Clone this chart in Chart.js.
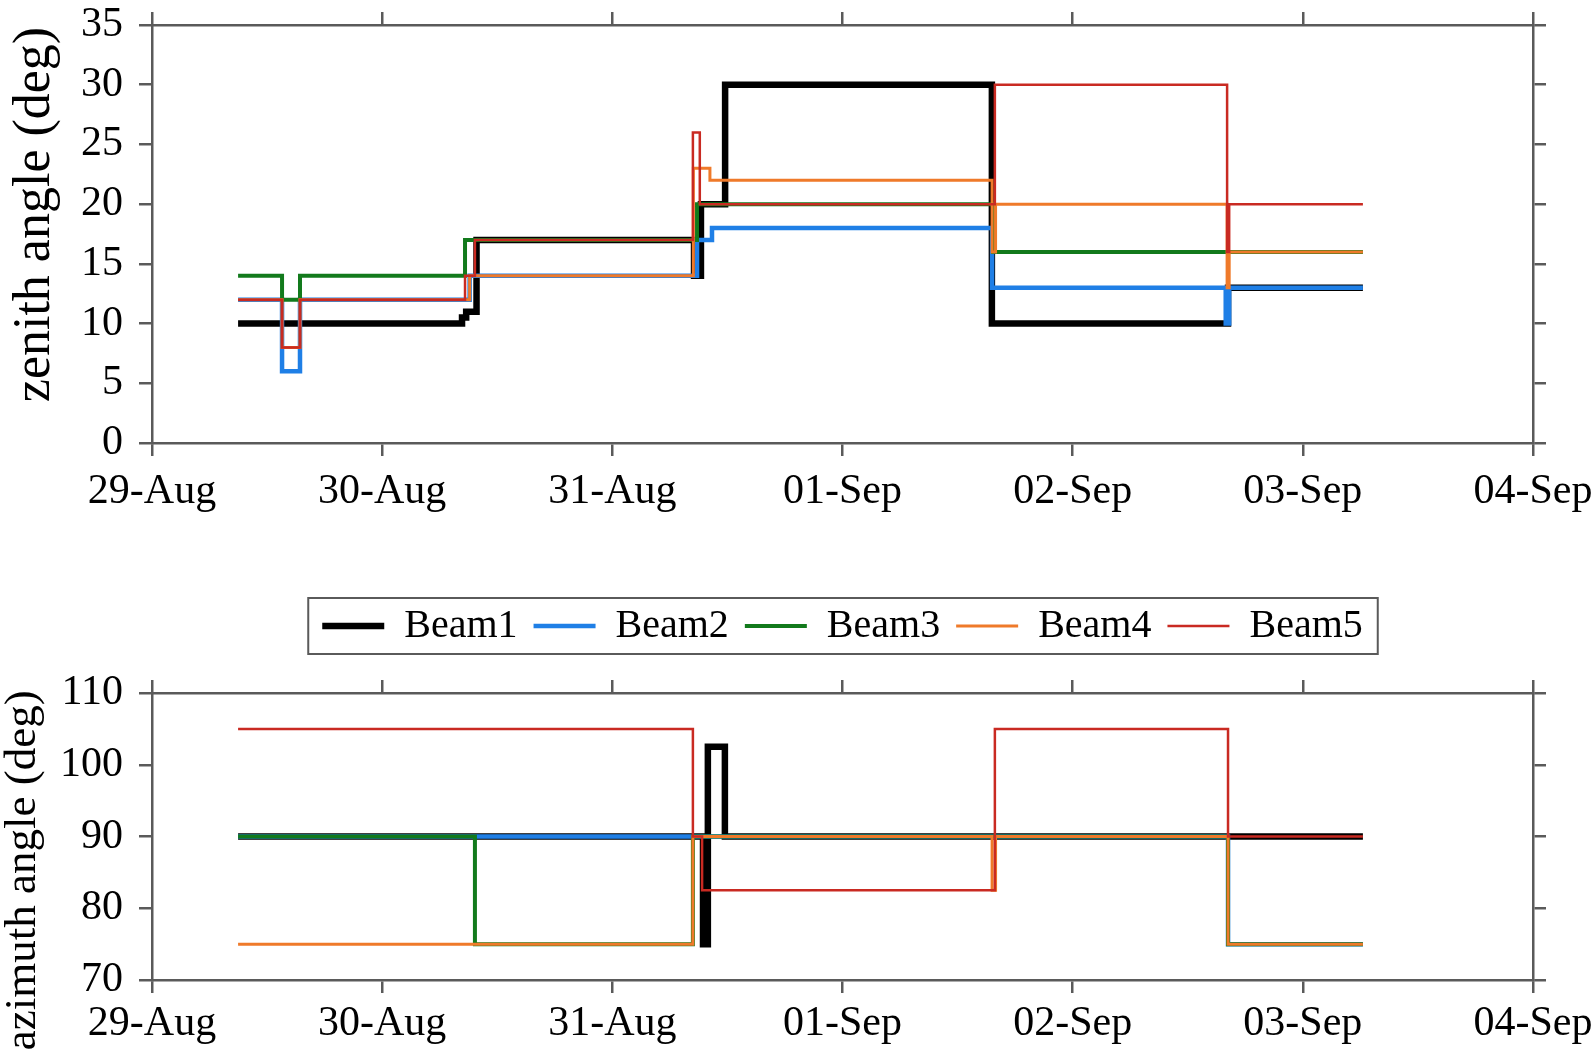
<!DOCTYPE html>
<html><head><meta charset="utf-8">
<script src="https://cdn.jsdelivr.net/npm/chart.js@4.4.1/dist/chart.umd.min.js"></script>
<style>
html,body{margin:0;padding:0;background:#fff;width:1595px;height:1053px;overflow:hidden;}
canvas{position:absolute;left:0;}
#topChart{top:0;}
#bottomChart{top:560px;}
</style></head><body>
<canvas id="topChart" width="1595" height="550" style="width:1595px;height:550px"></canvas>
<canvas id="bottomChart" width="1595" height="493" style="width:1595px;height:493px"></canvas>
<script>
// ---- tick labels / categories ----
const dateLabels = ['29-Aug', '30-Aug', '31-Aug', '01-Sep', '02-Sep', '03-Sep', '04-Sep'];
const beamNames = ['Beam1', 'Beam2', 'Beam3', 'Beam4', 'Beam5'];

// ---- zenith angle (deg); times are days after 29-Aug 00:00, value changes at each time ----
const beam1ZenithTimes  = [0.374, 1.347, 1.365, 1.410, 2.355, 2.385, 2.490, 3.649, 4.675, 5.261];
const beam1ZenithValues = [10, 10.5, 11, 17, 14, 20, 30, 10, 13, 13];
const beam2ZenithTimes  = [0.374, 0.565, 0.643, 1.380, 2.368, 2.433, 3.650, 4.665, 4.680, 5.261];
const beam2ZenithValues = [12, 6, 12, 14, 17, 18, 13, 10, 13, 13];
const beam3ZenithTimes  = [0.374, 0.565, 0.643, 1.360, 2.368, 3.654, 5.261];
const beam3ZenithValues = [14, 12, 14, 17, 20, 16, 16];
const beam4ZenithTimes  = [0.374, 0.565, 0.643, 1.380, 2.352, 2.424, 3.650, 3.665, 4.671, 4.680, 5.261];
const beam4ZenithValues = [12, 8, 12, 14, 23, 22, 16, 20, 13, 16, 16];
const beam5ZenithTimes  = [0.374, 0.565, 0.643, 1.360, 1.403, 2.350, 2.380, 3.662, 4.671, 4.680, 5.261];
const beam5ZenithValues = [12, 8, 12, 14, 17, 26, 20, 30, 16, 20, 20];

// ---- azimuth angle (deg) ----
const beam1AzimuthTimes  = [0.374, 2.394, 2.415, 2.489, 5.261];
const beam1AzimuthValues = [90, 75, 102.5, 90, 90];
const beam2AzimuthTimes  = [0.374, 4.675, 5.261];
const beam2AzimuthValues = [90, 75, 75];
const beam3AzimuthTimes  = [0.374, 1.403, 2.350, 4.675, 5.261];
const beam3AzimuthValues = [90, 75, 90, 75, 75];
const beam4AzimuthTimes  = [0.374, 2.350, 3.650, 3.665, 4.675, 5.261];
const beam4AzimuthValues = [75, 90, 82.5, 90, 75, 75];
const beam5AzimuthTimes  = [0.374, 2.350, 2.390, 3.662, 4.675, 5.261];
const beam5AzimuthValues = [105, 90, 82.5, 105, 90, 90];

const zenithTicks = {min: 0, max: 35, step: 5};
const azimuthTicks = {min: 70, max: 110, step: 10};

// ---- styles (kept apart from data) ----
const beamColors = ['#000000', '#1f7fe6', '#127a1c', '#ef7a2a', '#c92a22'];
const beamWidths = [6.5, 4.5, 4, 3, 2.5];
const FONT = 'Liberation Serif';

function toPoints(times, values) { return times.map((t, i) => ({x: t, y: values[i]})); }

function makeDatasets(timesList, valuesList) {
  return beamNames.map((name, i) => ({
    label: name,
    data: toPoints(timesList[i], valuesList[i]),
    borderColor: beamColors[i],
    backgroundColor: beamColors[i],
    borderWidth: beamWidths[i],
    pointRadius: 0,
    stepped: 'before',
    fill: false,
    order: beamNames.length - i
  }));
}

function noPad(s) { s.paddingTop = 0; s.paddingBottom = 0; s.paddingLeft = 0; s.paddingRight = 0; }

function makeScales(tk, titleText, titleSize, titlePadTop, x2Height, xHeight, xLabelPad) {
  const grid = {drawOnChartArea: false, drawTicks: true, tickLength: 13, color: '#5a5a5a', lineWidth: 2.5};
  const border = {display: true, color: '#5a5a5a', width: 2.5};
  const tickFont = {family: FONT, size: 42};
  return {
    x: {type: 'linear', position: 'bottom', min: 0, max: 6, grid, border,
        ticks: {stepSize: 1, font: tickFont, color: '#000', padding: xLabelPad, maxRotation: 0, autoSkip: false,
                callback: v => dateLabels[v]},
        afterFit: s => { s.height = xHeight; noPad(s); }},
    x2: {type: 'linear', position: 'top', min: 0, max: 6, grid, border,
        ticks: {stepSize: 1, display: false},
        afterFit: s => { s.height = x2Height; noPad(s); }},
    y: {type: 'linear', position: 'left', min: tk.min, max: tk.max, grid, border,
        ticks: {stepSize: tk.step, font: tickFont, color: '#000', padding: 16},
        title: {display: true, text: titleText, color: '#000', font: {family: FONT, size: titleSize},
                padding: {top: titlePadTop, bottom: 0}},
        afterFit: s => { s.width = 152; noPad(s); }},
    y2: {type: 'linear', position: 'right', min: tk.min, max: tk.max, grid, border,
        ticks: {stepSize: tk.step, display: false},
        afterFit: s => { s.width = 13; noPad(s); }}
  };
}

// top chart: plot area 152..1533 x 25..443
new Chart(document.getElementById('topChart'), {
  type: 'line',
  data: {datasets: makeDatasets(
    [beam1ZenithTimes, beam2ZenithTimes, beam3ZenithTimes, beam4ZenithTimes, beam5ZenithTimes],
    [beam1ZenithValues, beam2ZenithValues, beam3ZenithValues, beam4ZenithValues, beam5ZenithValues])},
  options: {
    responsive: false, animation: false, events: [], devicePixelRatio: 1,
    layout: {padding: {top: 12, right: 49, bottom: 0, left: 0}},
    scales: makeScales(zenithTicks, '\u00a0\u00a0\u00a0zenith angle (deg)', 52, 4, 13, 107, 11),
    plugins: {legend: {display: false}, tooltip: {enabled: false}}
  }
});

// bottom chart with legend box: plot area 152..1533 x 693..980
const legendBorder = {
  id: 'legendBorder',
  afterDraw(chart) {
    const lg = chart.legend;
    if (!lg || !lg.legendHitBoxes || !lg.legendHitBoxes.length) return;
    const hb = lg.legendHitBoxes;
    const last = hb[hb.length - 1];
    const x0 = hb[0].left - 14;
    const x1 = last.left + last.width + 15;
    const yc = hb[0].top + hb[0].height / 2;
    const ctx = chart.ctx;
    ctx.save();
    ctx.strokeStyle = '#5a5a5a';
    ctx.lineWidth = 2;
    ctx.strokeRect(x0, yc - 28, x1 - x0, 56);
    ctx.restore();
  }
};
new Chart(document.getElementById('bottomChart'), {
  type: 'line',
  data: {datasets: makeDatasets(
    [beam1AzimuthTimes, beam2AzimuthTimes, beam3AzimuthTimes, beam4AzimuthTimes, beam5AzimuthTimes],
    [beam1AzimuthValues, beam2AzimuthValues, beam3AzimuthValues, beam4AzimuthValues, beam5AzimuthValues])},
  options: {
    responsive: false, animation: false, events: [], devicePixelRatio: 1,
    layout: {padding: {top: 30, right: 49, bottom: 0, left: 0}},
    scales: makeScales(azimuthTicks, 'azimuth angle (deg)\u00a0\u00a0\u00a0\u00a0\u00a0\u00a0', 45, -4, 37, 73, 6),
    plugins: {
      tooltip: {enabled: false},
      legend: {
        display: true, position: 'top', fullSize: false, align: 'center',
        labels: {
          font: {family: FONT, size: 40}, color: '#000', padding: 16,
          usePointStyle: true, pointStyleWidth: 62,
          generateLabels: chart => chart.data.datasets.map((ds, i) => ({
            text: ds.label, fillStyle: ds.borderColor, strokeStyle: ds.borderColor,
            lineWidth: ds.borderWidth, pointStyle: 'line', hidden: false, datasetIndex: i,
            fontColor: '#000'
          }))
        }
      }
    }
  },
  plugins: [legendBorder]
});
</script>
</body></html>
